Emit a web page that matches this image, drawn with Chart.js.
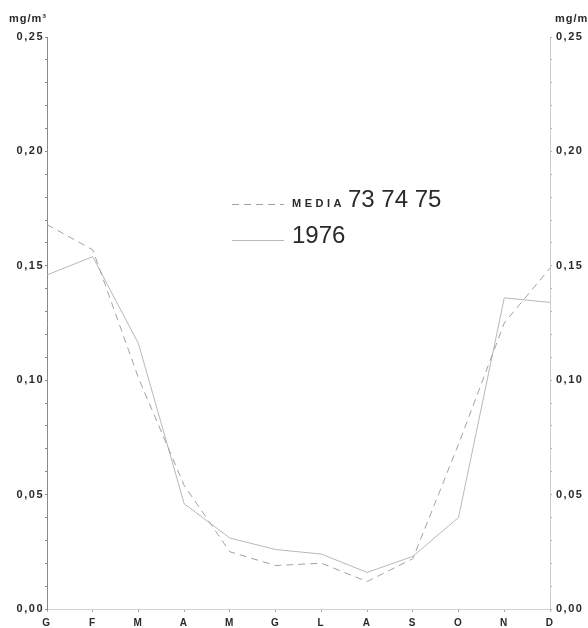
<!DOCTYPE html>
<html>
<head>
<meta charset="utf-8">
<script src="https://cdn.jsdelivr.net/npm/chart.js@4/dist/chart.umd.min.js"></script>
<style>
  html, body { margin: 0; padding: 0; background: #fff; }
  #wrap { width: 588px; height: 628px; }
</style>
</head>
<body>
<div id="wrap"><canvas id="chart" width="588" height="628"></canvas></div>
<script>
// mesi (G F M A M G L A S O N D)
const mesi = ['G', 'F', 'M', 'A', 'M', 'G', 'L', 'A', 'S', 'O', 'N', 'D'];
// media 73-74-75 (tratteggiata)
const media737475 = [0.168, 0.157, 0.101, 0.054, 0.025, 0.019, 0.020, 0.012, 0.022, 0.072, 0.125, 0.149];
// anno 1976 (continua)
const anno1976 = [0.146, 0.154, 0.116, 0.046, 0.031, 0.026, 0.024, 0.016, 0.023, 0.040, 0.136, 0.134];
const yMin = 0, yMax = 0.25, yStep = 0.01;
const unita = 'mg/m\u00b3';

function fmtTick(v) {
    // solo ogni 0,05 porta etichetta
    if (Math.round(v * 100) % 5 !== 0) return '';
    return v.toFixed(2).replace('.', ',');
}

const txtColor = '#2a2a2a';

// legenda + unita di misura
const extraText = {
    id: 'extraText',
    beforeDraw(chart) {
        chart.ctx.letterSpacing = '1.5px';
    },
    afterDraw(chart) {
        const ctx = chart.ctx;
        ctx.save();
        ctx.fillStyle = txtColor;
        ctx.textBaseline = 'alphabetic';
        ctx.letterSpacing = '1px';
        ctx.font = 'bold 11px "Liberation Sans", Arial, sans-serif';
        ctx.textAlign = 'left';
        ctx.fillText(unita, 9, 22);
        ctx.fillText(unita, 555, 22);

        // legenda
        const rows = [{ ds: chart.data.datasets[0], y: 204 }, { ds: chart.data.datasets[1], y: 240 }];
        rows.forEach(r => {
            ctx.save();
            ctx.strokeStyle = r.ds.borderColor;
            ctx.lineWidth = 1;
            ctx.setLineDash(r.ds.borderDash || []);
            ctx.beginPath();
            ctx.moveTo(232, r.y + 0.5);
            ctx.lineTo(284, r.y + 0.5);
            ctx.stroke();
            ctx.restore();

            let x = 292;
            let label = r.ds.label;
            if (label.startsWith('MEDIA ')) {
                ctx.font = 'bold 11px "Liberation Sans", Arial, sans-serif';
                ctx.letterSpacing = '3.5px';
                ctx.fillText('MEDIA', x, r.y + 3);
                x = 348;
                label = label.slice(6);
            }
            ctx.letterSpacing = '0px';
            ctx.font = '24px "Liberation Sans", Arial, sans-serif';
            ctx.fillText(label, x, r.y + 3);
        });
        ctx.restore();
        ctx.letterSpacing = '0px';
    }
};

const tickFont = { family: '"Liberation Sans", Arial, sans-serif', size: 11, weight: 'bold' };

new Chart(document.getElementById('chart').getContext('2d'), {
    type: 'line',
    data: {
        labels: mesi,
        datasets: [{
            label: 'MEDIA 73 74 75',
            data: media737475,
            borderColor: '#a2a2a2',
            borderWidth: 1,
            borderDash: [7, 5],
            pointRadius: 0,
            tension: 0,
            fill: false
        }, {
            label: '1976',
            data: anno1976,
            borderColor: '#b8b8b8',
            borderWidth: 1,
            pointRadius: 0,
            tension: 0,
            fill: false
        }]
    },
    options: {
        responsive: false,
        animation: false,
        layout: { padding: { top: 37, left: 0, right: 0, bottom: 0 } },
        plugins: { legend: { display: false }, tooltip: { enabled: false } },
        scales: {
            x: {
                offset: false,
                border: { display: true, color: '#d4d4d4', dash: [2, 3] },
                grid: { drawOnChartArea: false, drawTicks: true, tickLength: 3, color: '#aaa' },
                ticks: { color: txtColor, font: { family: tickFont.family, size: 10, weight: 'bold' }, padding: 5, maxRotation: 0, autoSkip: false },
                afterFit: s => { s.height = 19; }
            },
            y: {
                position: 'left',
                min: yMin, max: yMax,
                border: { display: true, color: '#8a8a8a', width: 1 },
                grid: { drawOnChartArea: false, drawTicks: true, tickLength: 2, color: '#888' },
                ticks: { stepSize: yStep, maxTicksLimit: 40, autoSkip: false, callback: fmtTick, color: txtColor, font: tickFont, padding: 1 },
                afterFit: s => { s.width = 47; }
            },
            y2: {
                position: 'right',
                min: yMin, max: yMax,
                border: { display: true, color: '#cccccc', dash: [2, 3] },
                grid: { drawOnChartArea: false, drawTicks: true, tickLength: 2, color: '#aaa' },
                ticks: { stepSize: yStep, maxTicksLimit: 40, autoSkip: false, callback: fmtTick, color: txtColor, font: tickFont, padding: 4 },
                afterFit: s => { s.width = 38; }
            }
        }
    },
    plugins: [extraText]
});
</script>
</body>
</html>
